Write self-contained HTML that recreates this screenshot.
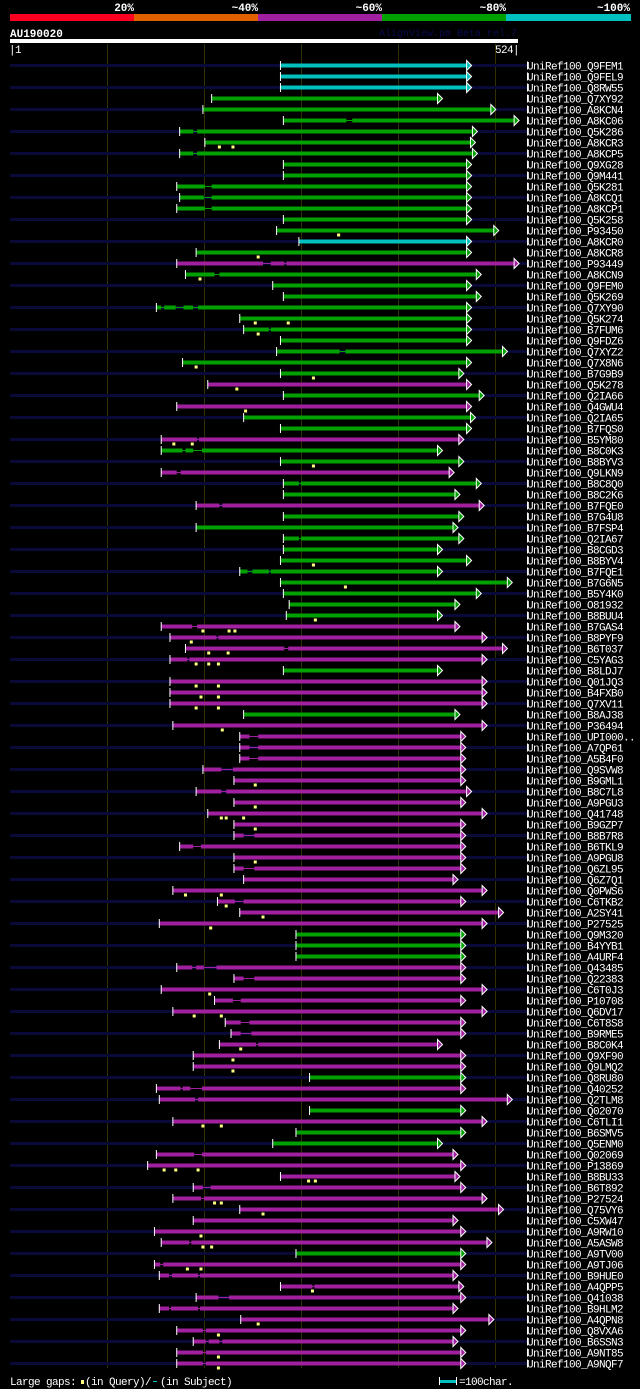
<!DOCTYPE html>
<html><head><meta charset="utf-8"><style>
html,body{margin:0;padding:0;background:#000;}
svg{display:block;}
text{font-family:"Liberation Mono","DejaVu Sans Mono",monospace;}
</style></head><body>
<svg id="chart" width="640" height="1389" viewBox="0 0 640 1389" xmlns="http://www.w3.org/2000/svg">
<rect x="0" y="0" width="640" height="1389" fill="#000"/>
<g>
<text x="134" y="11" fill="#fff" font-size="11" font-weight="bold" text-anchor="end">20%</text>
<text x="258" y="11" fill="#fff" font-size="11" font-weight="bold" text-anchor="end">~40%</text>
<text x="382" y="11" fill="#fff" font-size="11" font-weight="bold" text-anchor="end">~60%</text>
<text x="506" y="11" fill="#fff" font-size="11" font-weight="bold" text-anchor="end">~80%</text>
<text x="630" y="11" fill="#fff" font-size="11" font-weight="bold" text-anchor="end">~100%</text>
<rect x="10" y="14" width="124" height="7" fill="#ff0020"/>
<rect x="134" y="14" width="124" height="7" fill="#e06000"/>
<rect x="258" y="14" width="124" height="7" fill="#a020a0"/>
<rect x="382" y="14" width="124" height="7" fill="#00a000"/>
<rect x="506" y="14" width="125" height="7" fill="#00c0c0"/>
</g>
<text x="10" y="37" fill="#fff" font-size="11" font-weight="bold">AU190020</text>
<text x="517" y="36" fill="#0a0a50" font-size="10" text-anchor="end">AlignView.pm Beta rel.7</text>
<rect x="10" y="39" width="508" height="4" fill="#fff"/>
<text x="9" y="53" fill="#fff" font-size="11" letter-spacing="-0.6">|1</text>
<text x="519" y="53" fill="#fff" font-size="11" letter-spacing="-0.6" text-anchor="end">524|</text>
<g id="grid"></g>
<g id="rows"></g>
<g>
<text x="10" y="1385" fill="#fff" font-size="11" letter-spacing="-0.6">Large gaps:</text>
<rect x="81" y="1380" width="3" height="4" fill="#ffff80"/>
<text x="85" y="1385" fill="#fff" font-size="11" letter-spacing="-0.6">(in Query)/</text>
<rect x="153" y="1381" width="4" height="1" fill="#00c0c0"/>
<text x="160" y="1385" fill="#fff" font-size="11" letter-spacing="-0.6">(in Subject)</text>
<rect x="439" y="1380" width="17" height="3" fill="#00c0c0"/>
<rect x="439" y="1377" width="1" height="8" fill="#fff"/>
<rect x="456" y="1377" width="1" height="8" fill="#fff"/>
<text x="459" y="1385" fill="#fff" font-size="11" letter-spacing="-0.6">=100char.</text>
</g>
</svg>
<script>
const labels = ["Q9FEM1","Q9FEL9","Q8RW55","Q7XY92","A8KCN4","A8KC06","Q5K286","A8KCR3","A8KCP5","Q9XG28","Q9M441","Q5K281","A8KCQ1","A8KCP1","Q5K258","P93450","A8KCR0","A8KCR8","P93449","A8KCN9","Q9FEM0","Q5K269","Q7XY90","Q5K274","B7FUM6","Q9FDZ6","Q7XYZ2","Q7X8N6","B7G9B9","Q5K278","Q2IA66","Q4GWU4","Q2IA65","B7FQS0","B5YM80","B8C0K3","B8BYV3","Q9LKN9","B8C8Q0","B8C2K6","B7FQE0","B7G4U8","B7FSP4","Q2IA67","B8CGD3","B8BYV4","B7FQE1","B7G6N5","B5Y4K0","O81932","B8BUU4","B7GAS4","B8PYF9","B6T037","C5YAG3","B8LDJ7","Q01JQ3","B4FXB0","Q7XV11","B8AJ38","P36494","UPI000..","A7QP61","A5B4F0","Q9SVW8","B9GML1","B8C7L8","A9PGU3","Q41748","B9GZP7","B8B7R8","B6TKL9","A9PGU8","Q6ZL95","Q6Z7Q1","Q0PWS6","C6TKB2","A2SY41","P27525","Q9M320","B4YYB1","A4URF4","Q43485","Q22383","C6T0J3","P10708","Q6DV17","C6T8S8","B9RME5","B8C0K4","Q9XF90","Q9LMQ2","Q8RU80","Q40252","Q2TLM8","Q02070","C6TLI1","B6SMV5","Q5ENM0","Q02069","P13869","B8BU33","B6T892","P27524","Q75VY6","C5XW47","A9RW10","A5ASW8","A9TV00","A9TJ06","B9HUE0","A4QPP5","Q41038","B9HLM2","A4QPN8","Q8VXA6","B6SSN3","A9NT85","A9NQF7"];
const starts = [280,280,280,209,200,283,176,202,176,283,283,173,176,173,283,276,299,193,173,182,272,283,152,238,242,280,276,179,280,205,283,173,242,280,157,157,280,157,283,283,193,283,193,283,283,280,238,280,283,289,286,157,166,182,166,283,166,166,166,242,169,238,238,238,200,232,193,232,205,232,232,176,232,232,242,169,215,238,155,296,296,296,173,232,157,212,169,223,229,217,190,190,310,152,155,310,169,296,272,152,143,280,190,169,238,190,150,157,296,150,155,280,193,155,239,173,190,173,173];
const ends = [472,472,472,442,497,521,478,476,478,472,472,472,472,472,472,500,472,472,521,482,472,482,472,472,472,472,509,472,464,472,485,472,476,472,464,442,464,454,482,460,485,464,458,464,442,472,442,514,482,460,442,460,488,509,488,442,488,488,488,460,488,466,466,466,466,466,472,466,488,466,466,466,466,466,458,488,466,505,488,466,466,466,466,466,488,466,488,466,466,442,466,466,466,466,514,466,488,466,442,458,466,460,466,488,505,458,466,493,466,466,458,464,466,458,495,466,458,466,466];
const identity = "ccc" + "ggggggggggggg" + "c" + "g" + "m" + "gggggggggg" + "m" + "g" + "m" + "gg" + "m" + "gg" + "m" + "gg" + "m" + "gggggggggg" + "mmmm" + "g" + "mmm" + "g" + "mmmmmmmmmmmmmmmmmmm" + "ggg" + "mmmmmmmmmm" + "g" + "mm" + "g" + "m" + "gg" + "mmmmmmmmm" + "g" + "mmmmmmmmmm";
const subjectGaps = {6:[[348,354]],7:[[190,194]],9:[[190,194]],12:[[202,209]],13:[[201,209]],14:[[202,209]],19:[[262,270],[284,286]],20:[[212,217]],23:[[157,160],[172,180],[190,195]],25:[[268,270]],27:[[341,347]],35:[[194,196]],36:[[179,182],[190,199]],38:[[173,177]],39:[[299,301]],41:[[217,220]],44:[[299,301]],47:[[246,251],[268,270]],52:[[189,194]],53:[[214,216]],54:[[284,288]],55:[[184,186]],62:[[248,257]],63:[[248,257]],64:[[248,257]],65:[[219,231]],67:[[219,224]],71:[[242,253]],72:[[190,198]],74:[[242,253]],77:[[233,242]],83:[[189,193],[201,214]],84:[[242,253]],86:[[231,239]],88:[[239,248]],89:[[239,250]],90:[[255,257]],94:[[177,179],[187,199]],95:[[192,195]],100:[[191,199]],103:[[200,208]],104:[[198,201]],108:[[186,188]],110:[[156,159]],111:[[165,168],[195,197]],112:[[313,315]],113:[[216,227]],114:[[165,167],[195,197]],116:[[200,203]],117:[[203,206],[217,220]],118:[[200,203]],119:[[200,203]]};
const queryGaps = {8:[217,231],16:[340],18:[257],20:[197],24:[254,288],25:[257],28:[193],29:[314],30:[235],32:[244],35:[170,189],37:[314],46:[314],48:[347],51:[316],52:[200,227,233],53:[188],54:[206,226],55:[193,206,216],57:[193,216],58:[198,216],59:[193,216],61:[220],66:[254],68:[254],69:[219,224,242],70:[254],73:[254],76:[182,219],77:[224],78:[262],79:[208],85:[207],87:[191,219],90:[239],91:[231],92:[231],97:[200,219],101:[160,172,195],102:[309,316],104:[212,219],105:[262],107:[198],108:[200,209],110:[184,198],112:[313],115:[257],116:[216],118:[216],119:[216]};
const gridTicks = [101,201,301,401,501];
const queryLength = 524;

const NS = "http://www.w3.org/2000/svg";
const colorMap = {c:"#00c0c0", g:"#00a000", m:"#a020a0"};
function xScale(c){ return 10 + (c - 1) * 507 / (queryLength - 1); }
function yScale(i){ return 65.5 + i * 11; }
function mk(tag, attrs, parent){ const e = document.createElementNS(NS, tag); for (const k in attrs) e.setAttribute(k, attrs[k]); parent.appendChild(e); return e; }

const grid = document.getElementById("grid");
gridTicks.forEach(t => {
  const l = mk("rect", {x: Math.round(xScale(t)), y: 44, width: 1, height: 1324, fill: "#333000"}, grid);
  
  
});

const rowsG = document.getElementById("rows");
labels.forEach((lab, i) => {
  const n = i + 1;
  const y = yScale(i);
  const g = mk("g", {}, rowsG);
  
  
  if (n % 2 === 1) {
    const bg = mk("rect", {x: 10, y: y - 1.5, width: 517, height: 3, fill: "#0a0a38"}, g);
    
    
  }
  const edge = mk("rect", {x: 527, y: y - 4, width: 1, height: 8, fill: "#fff"}, g);
  
  
  const col = colorMap[identity[i]] || "#a020a0";
  const x0 = xScale(starts[i]), x1 = xScale(ends[i]);
  const gaps = subjectGaps[n] || [];
  let segs = [], cur = starts[i];
  gaps.forEach(gp => { segs.push([cur, gp[0]]); cur = gp[1]; });
  segs.push([cur, ends[i]]);
  gaps.forEach(gp => {
    const gl = mk("rect", {x: xScale(gp[0]), y: y - 0.5, width: xScale(gp[1]) - xScale(gp[0]), height: 1, fill: col}, g);
    
    
  });
  segs.forEach(s => {
    const b = mk("rect", {x: xScale(s[0]), y: y - 2, width: Math.max(0, xScale(s[1]) - xScale(s[0])), height: 4, fill: col}, g);
    
    
  });
  const st = mk("rect", {x: x0 - 0.5, y: y - 4.5, width: 1, height: 9, fill: "#fff"}, g);
  
  
  const ar = mk("polygon", {points: `${x1},${y-5} ${x1+5},${y} ${x1},${y+5}`, fill: col, stroke: "#fff", "stroke-width": 1}, g);
  
  
  (queryGaps[n] || []).forEach(q => {
    const m = mk("rect", {x: xScale(q) - 1.5, y: y + 3, width: 3, height: 3, fill: "#ffff80"}, g);
    
    
  });
  const t = mk("text", {x: 527, y: y + 4, fill: "#fff", "font-size": 11, "letter-spacing": "-0.6"}, g);
  t.textContent = "UniRef100_" + lab;
  
  
});
</script>
</body></html>
